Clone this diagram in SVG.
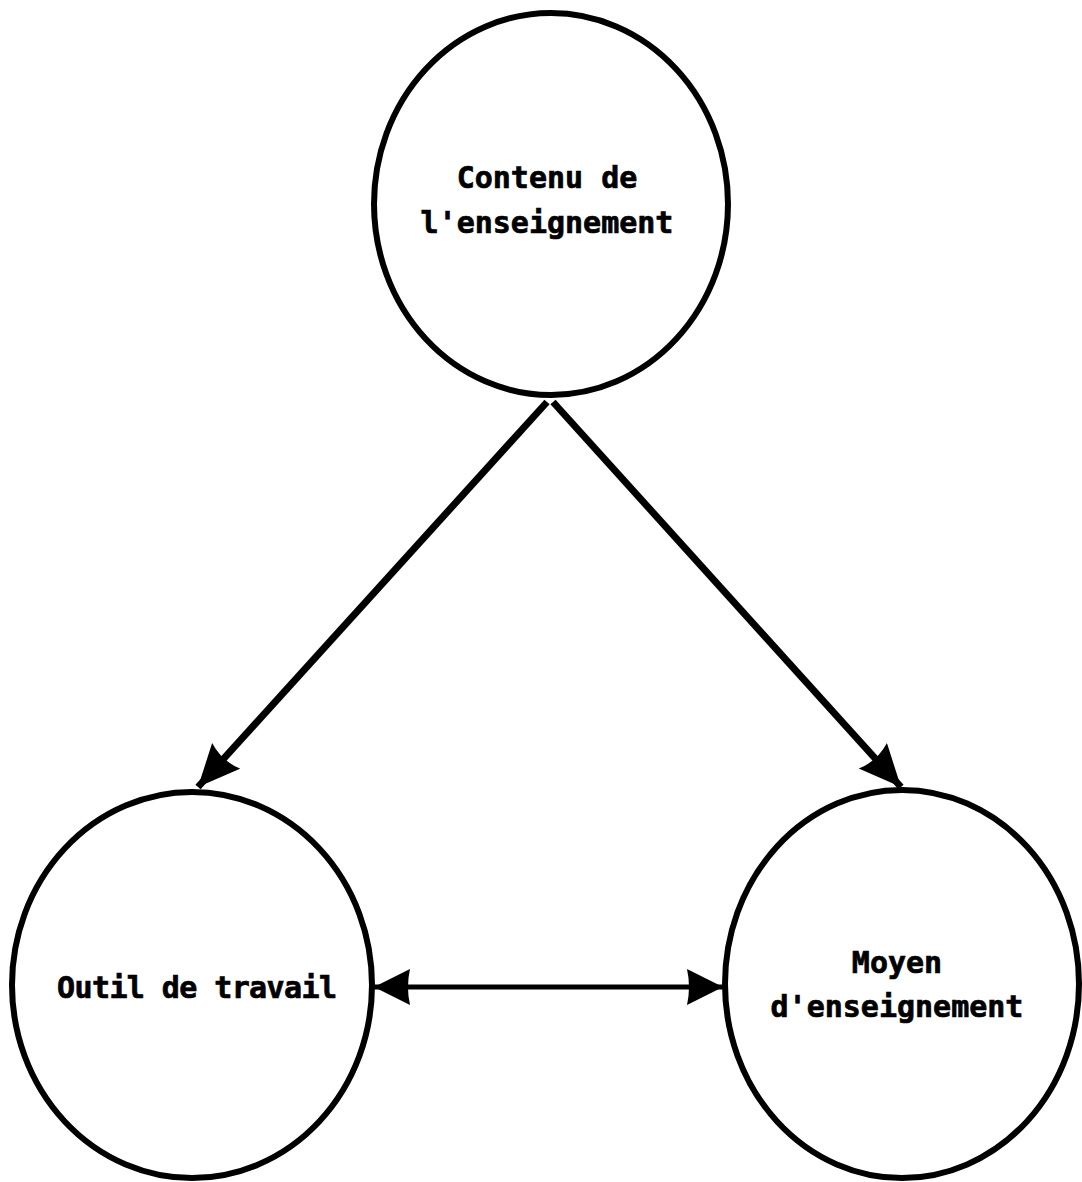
<svg xmlns="http://www.w3.org/2000/svg" width="1082" height="1182" viewBox="0 0 1082 1182">
<style>
.node{fill:#fff;stroke:#000;stroke-width:6}
.lbl{font-family:"DejaVu Sans Mono","Liberation Mono",monospace;font-weight:bold;font-size:30px;fill:#000;stroke:#000;stroke-width:0.7;text-anchor:middle}
.conn{stroke:#000;fill:none}
</style>
<defs>
<marker id="ah" markerUnits="userSpaceOnUse" markerWidth="46" markerHeight="40" refX="42" refY="19" orient="auto-start-reverse" viewBox="0 0 46 40">
<path d="M0,0 L42,19 L0,38 Q7,19 0,0 z" fill="#000"/>
</marker>
<marker id="ah2" markerUnits="userSpaceOnUse" markerWidth="40" markerHeight="38" refX="36" refY="18" orient="auto-start-reverse" viewBox="0 0 40 38">
<path d="M0,0 L36,18 L0,36 Q4,18 0,0 z" fill="#000"/>
</marker>
</defs>
<rect width="1082" height="1182" fill="#fff"/>
<g id="connectors">
<line class="conn" x1="547" y1="402" x2="198" y2="787" stroke-width="7" marker-end="url(#ah)"/>
<line class="conn" x1="553" y1="402" x2="901" y2="787" stroke-width="7" marker-end="url(#ah)"/>
<line class="conn" x1="374" y1="987" x2="723" y2="987" stroke-width="5" marker-start="url(#ah2)" marker-end="url(#ah2)"/>
</g>
<g id="node-contenu">
<ellipse class="node" cx="551" cy="204" rx="177" ry="191"/>
<text class="lbl" x="547" y="188">Contenu de</text>
<text class="lbl" x="547" y="233">l'enseignement</text>
</g>
<g id="node-outil">
<ellipse class="node" cx="192" cy="985" rx="180" ry="193"/>
<text class="lbl" x="197" y="998" textLength="280">Outil de travail</text>
</g>
<g id="node-moyen">
<ellipse class="node" cx="902" cy="984" rx="177" ry="194"/>
<text class="lbl" x="897" y="973">Moyen</text>
<text class="lbl" x="897" y="1017">d'enseignement</text>
</g>
</svg>
